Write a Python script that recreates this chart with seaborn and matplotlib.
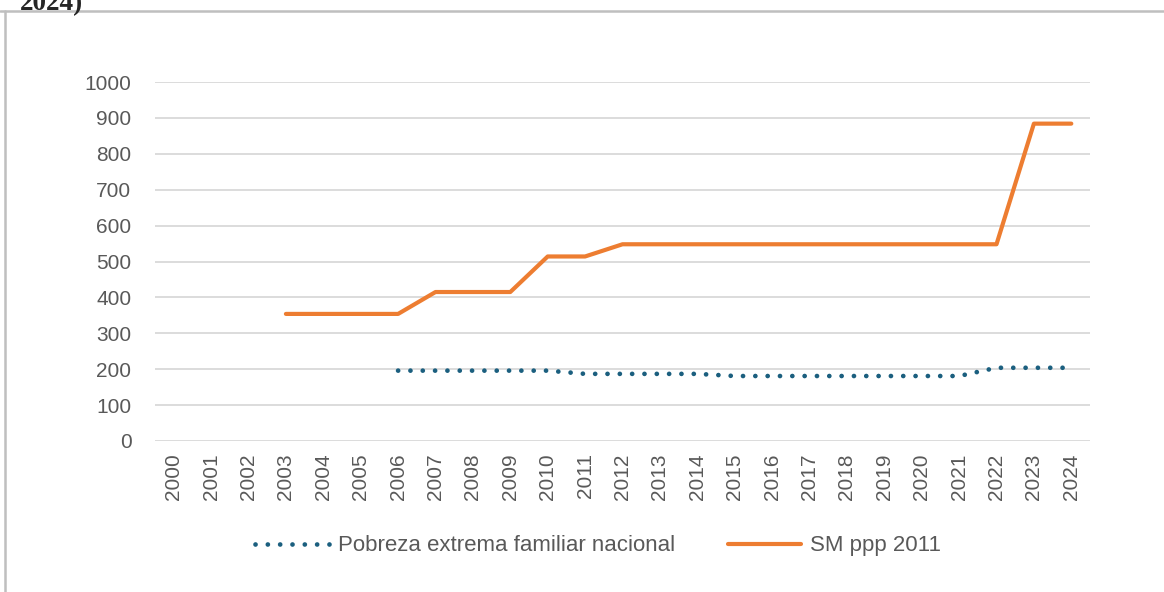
import numpy as np
import pandas as pd
import seaborn as sns
import matplotlib.pyplot as plt

# values (NaN = no data)
years = list(range(2000, 2025))
pobreza_extrema = [np.nan] * 6 + [196] * 5 + [187] * 4 + [181] * 7 + [204] * 3
sm_ppp_2011 = [np.nan] * 3 + [354] * 4 + [415] * 3 + [514] * 2 + [548] * 11 + [884] * 2

label_pobreza = 'Pobreza extrema familiar nacional'
label_sm = 'SM ppp 2011'

df = pd.DataFrame({'year': years, label_pobreza: pobreza_extrema, label_sm: sm_ppp_2011})

sns.set_style('white')
plt.rcParams['font.family'] = ['Liberation Sans', 'DejaVu Sans']

fig = plt.figure(figsize=(11.64, 5.92), dpi=100)
ax = fig.add_axes([155 / 1164, 1 - 441 / 592, 935 / 1164, 359 / 592])

# gridlines behind the data
for v in range(0, 1001, 100):
    ax.axhline(v, color='#D9D9D9', lw=1.3, zorder=0)

sns.lineplot(data=df, x='year', y=label_pobreza, ax=ax, color='#1B5F7F',
             lw=3.4, linestyle=(0, (0.01, 2.6)), dash_capstyle='round',
             label=label_pobreza)
sns.lineplot(data=df, x='year', y=label_sm, ax=ax, color='#ED7D31',
             lw=3.0, solid_capstyle='round', solid_joinstyle='round',
             label=label_sm)

ax.set_xlim(1999.5, 2024.5)
ax.set_ylim(0, 1000)
ax.set_xticks(years)
ax.set_xticklabels([str(y) for y in years], rotation=90)
ax.set_yticks(range(0, 1001, 100))
ax.tick_params(axis='both', length=0, labelsize=15, colors='#595959')
ax.tick_params(axis='x', pad=9)
ax.tick_params(axis='y', pad=17)
ax.set_xlabel('')
ax.set_ylabel('')
for s in ax.spines.values():
    s.set_visible(False)

ax.get_legend().remove()
h, l = ax.get_legend_handles_labels()
fig.legend(h, l, loc='center', bbox_to_anchor=(0.514, 0.078), ncol=2,
           frameon=False, fontsize=16, labelcolor='#595959',
           handlelength=3.3, handletextpad=0.4, columnspacing=2.4)

# frame of the chart object and the clipped title above it
fig.add_artist(plt.Line2D([0, 1], [1 - 11 / 592] * 2, color='#BFBFBF', lw=1.8,
                          transform=fig.transFigure))
fig.add_artist(plt.Line2D([5 / 1164] * 2, [0, 1 - 11 / 592], color='#BFBFBF', lw=1.8,
                          transform=fig.transFigure))
fig.text(20 / 1164, 1 - 10 / 592, '2024)', fontsize=19.5, fontweight='bold',
         family=['Liberation Serif', 'DejaVu Serif'], va='baseline', ha='left')

fig.savefig('out.png', dpi=100)
